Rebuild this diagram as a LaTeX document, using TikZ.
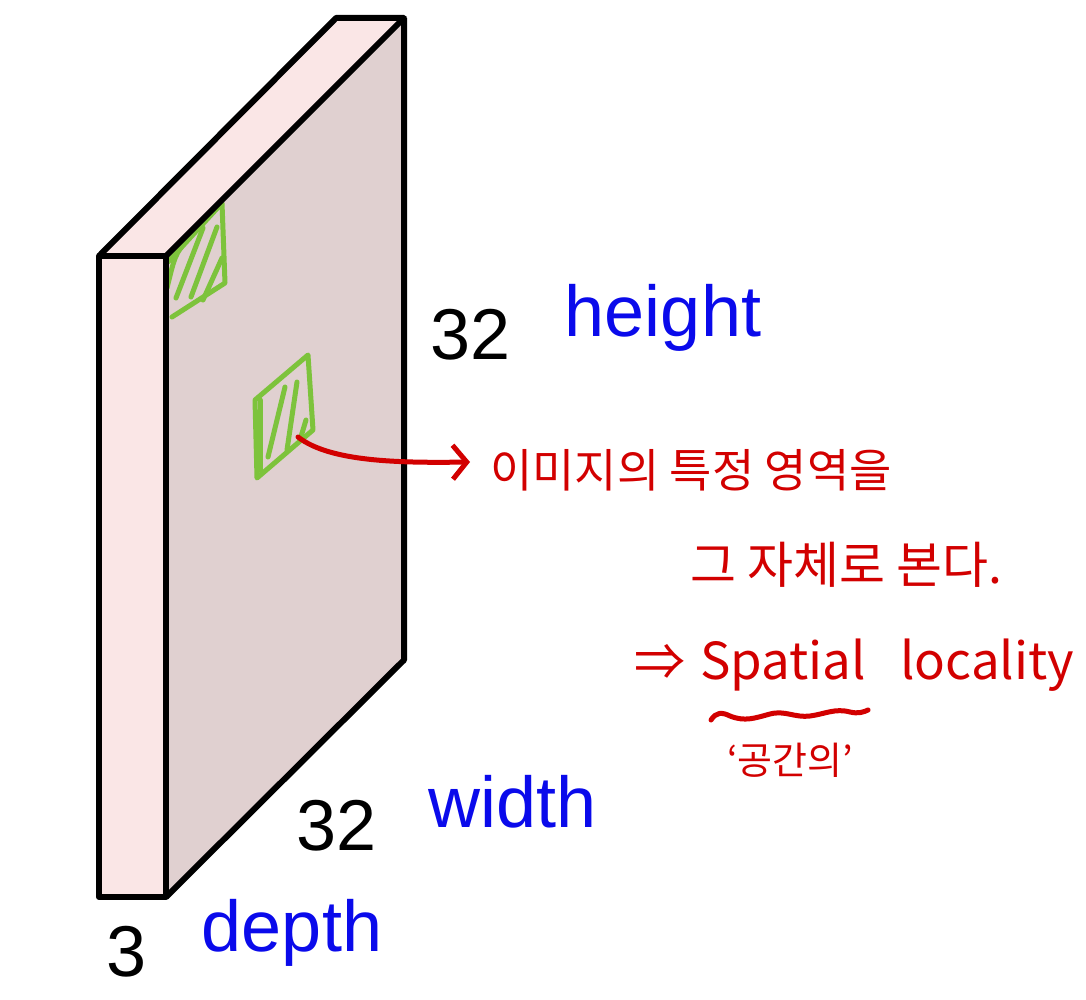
\documentclass[tikz,border=0pt]{standalone}
\usepackage{fontspec}
\setmainfont{Liberation Sans}
\newfontfamily\krfont{Noto Sans CJK KR}
\usetikzlibrary{arrows.meta,decorations.pathmorphing}
\definecolor{frontpink}{RGB}{250,230,230}
\definecolor{sidepink}{RGB}{224,208,208}
\definecolor{patchgreen}{RGB}{125,195,60}
\definecolor{inkred}{RGB}{210,0,0}
\definecolor{labelblue}{RGB}{10,10,235}
\tikzset{
  face/.style={draw=black,line width=6pt,line join=round},
  patch/.style={draw=patchgreen,line width=5pt,line cap=round,line join=round},
  dimnum/.style={font=\fontsize{72}{80}\selectfont,text=black,inner sep=0pt},
  dimname/.style={font=\fontsize{72}{80}\selectfont,text=labelblue,inner sep=0pt},
  note/.style={font=\krfont\fontsize{46}{56}\selectfont,text=inkred,inner sep=0pt},
  latinnote/.style={font=\krfont\fontsize{51}{60}\selectfont,text=inkred,inner sep=0pt},
  ink/.style={draw=inkred,line width=5pt,line cap=round,line join=round}
}
\begin{document}
\begin{tikzpicture}[x=1pt,y=-1pt]
\useasboundingbox (0,0) rectangle (1086,1000);
% box faces
\fill[frontpink] (99,256) -- (336,18) -- (404,18) -- (166,256) -- cycle;
\fill[sidepink] (166,256) -- (404,18) -- (404,660) -- (166,897) -- cycle;
\fill[frontpink] (99,256) rectangle (166,897);
% green patches
\draw[patch] (168,262) -- (222,203) -- (225,283) -- (172,317);
\draw[patch] (167,288) .. controls (175,255) .. (188,238);
\draw[patch] (176,298) -- (203,228);
\draw[patch] (191,297) -- (217,227);
\draw[patch] (203,300) -- (222,258);
\draw[patch] (255,400) -- (308,355) -- (313,430) -- (257,478) -- cycle;
\draw[patch] (260,400) -- (260,470);
\draw[patch] (268,457) -- (285,387);
\draw[patch] (287,450) -- (297,382);
\draw[patch] (300,440) -- (306,420);
% outlines
\draw[face] (99,256) -- (336,18) -- (404,18) -- (166,256);
\draw[face] (404,18) -- (404,660) -- (166,897);
\draw[face] (99,256) rectangle (166,897);
% labels
\node[dimnum] (h32) at (471,335) {32};
\node[dimname] (hname) at (663,318) {height};
\node[dimnum] (w32) at (337,826) {32};
\node[dimname] (wname) at (513,802) {width};
\node[dimnum] (d3) at (127,952) {3};
\node[dimname] (dname) at (292,933) {depth};
% notes
\coordinate (src) at (298,437);
\node[note,anchor=west] (n1) at (490,470) {이미지의 특정 영역을};
\node[note,font=\krfont\fontsize{50}{58}\selectfont,anchor=west] (n2) at (690,565) {그 자체로 본다.};
\node[latinnote,anchor=west] (n3a) at (634,662) {⇒};
\node[latinnote,anchor=west] (n3b) at (700,665) {Spatial};
\node[latinnote,anchor=west] (n3c) at (900,665) {locality};
\node[note,font=\krfont\fontsize{38}{44}\selectfont,anchor=center] (n4) at (790,760) {‘공간의’};
\coordinate (tip) at (470,462);
\draw[ink,-{Straight Barb[length=14pt,width=34pt]}] (src) .. controls (330,462) and (400,463) .. (tip);
\draw[ink] (711,720) .. controls (716,712) and (722,712) .. (730,716)
  .. controls (745,722) and (755,718) .. (770,714)
  .. controls (785,710) and (795,718) .. (810,716)
  .. controls (825,714) and (835,708) .. (850,712)
  .. controls (858,714) and (864,712) .. (868,710);
\end{tikzpicture}
\end{document}
